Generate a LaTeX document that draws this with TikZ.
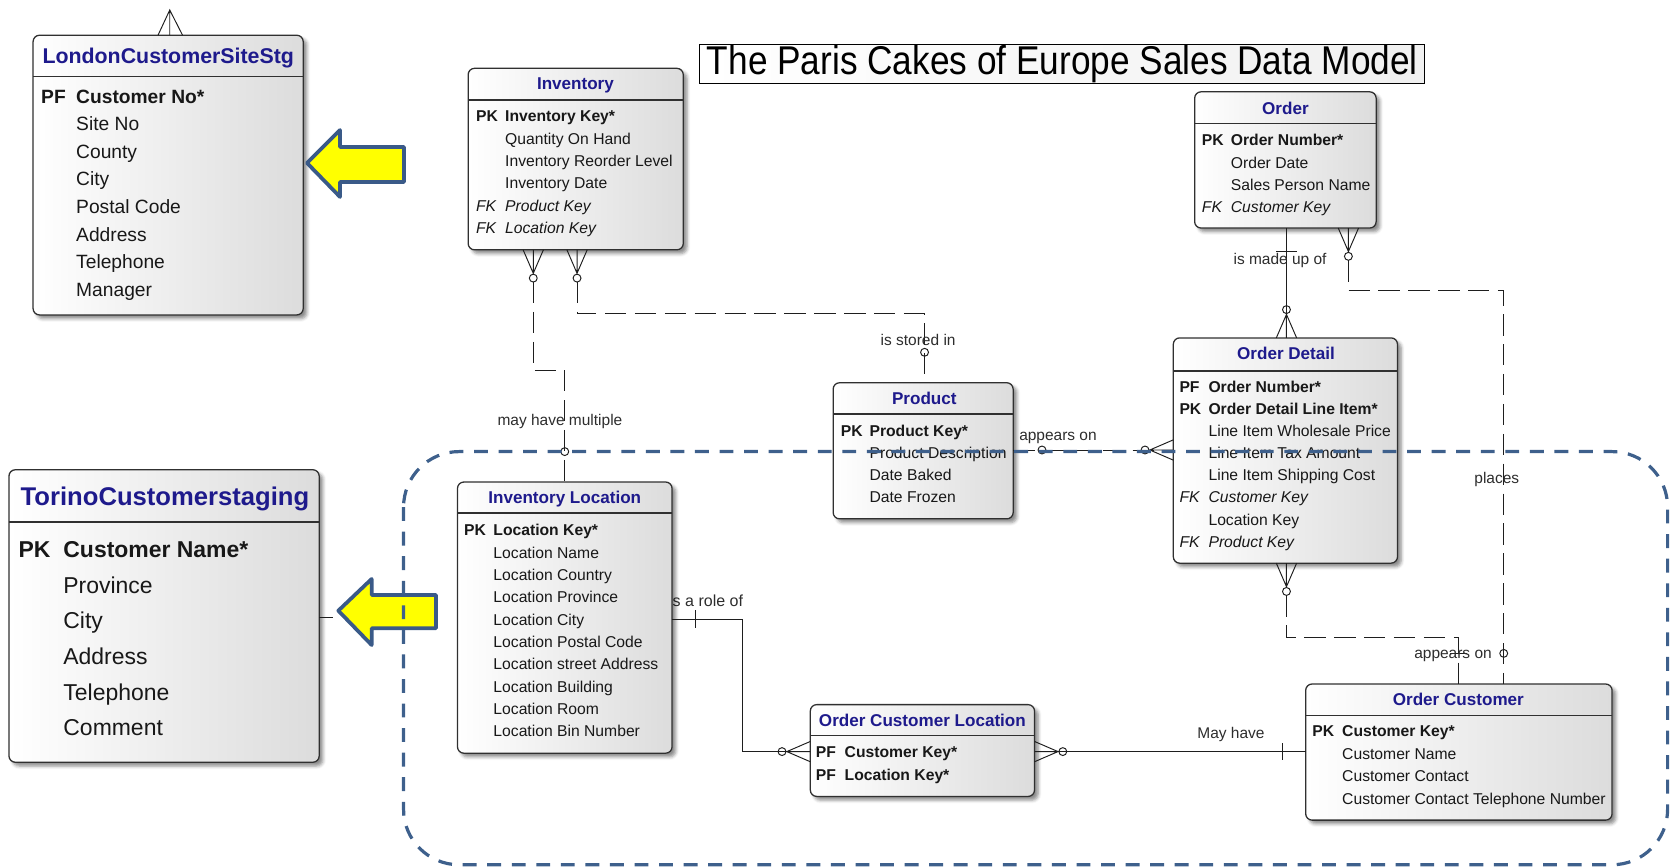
\documentclass[tikz,border=0pt]{standalone}
\usepackage{fontspec}
\setmainfont{Liberation Sans}
\usetikzlibrary{calc,shadows.blur}

\definecolor{titleblue}{RGB}{30,26,140}
\definecolor{rowink}{RGB}{24,24,24}
\definecolor{boxline}{RGB}{48,48,48}
\definecolor{relink}{RGB}{30,30,30}
\definecolor{lblink}{RGB}{45,45,45}
\definecolor{areablue}{RGB}{62,96,140}
\definecolor{arrowfill}{RGB}{255,255,0}
\definecolor{arrowedge}{RGB}{58,90,136}
\definecolor{boxshade}{RGB}{220,220,220}

% one attribute row: key column of width \keycol, then the attribute name
\newdimen\keycol
\newcommand\ent[2]{\hbox{\makebox[\keycol][l]{#1}#2}}

% crow's foot with its "zero" circle; #1 = point on the box edge, #2 = +1/-1 direction
\newcommand\crowv[2]{%
  \draw[rel] ($(#1)+(-9.5,0)$) -- ($(#1)+(0,#2*22)$) -- ($(#1)+(9.5,0)$)
             (#1) -- ($(#1)+(0,#2*22)$);
  \draw[rel] ($(#1)+(0,#2*26.5)$) circle[radius=3.7];}
\newcommand\crowh[2]{%
  \draw[rel] ($(#1)+(0,-9.5)$) -- ($(#1)+(#2*22,0)$) -- ($(#1)+(0,9.5)$)
             (#1) -- ($(#1)+(#2*22,0)$);
  \draw[rel] ($(#1)+(#2*26.5,0)$) circle[radius=3.7];}

\begin{document}
\begin{tikzpicture}[x=1pt, y=-1pt,
  ebox/.style={draw=boxline, line width=1.2pt, rounded corners=6pt,
    left color=white, right color=boxshade, inner sep=0pt, outer sep=0pt,
    anchor=north west,
    blur shadow={shadow xshift=3.5pt, shadow yshift=-3.5pt,
      shadow blur radius=3pt, shadow opacity=45}},
  hdr/.style={draw=boxline, line width=1.2pt},
  etitle/.style={inner sep=0pt, anchor=base, text=titleblue,
    font=\bfseries\fontsize{16}{19}\selectfont},
  rows/.style={inner sep=0pt, anchor=base west, text=rowink},
  rel/.style={draw=relink, line width=0.9pt},
  reld/.style={rel, dash pattern=on 20pt off 8pt},
  lbl/.style={inner sep=0pt, anchor=base, text=lblink,
    font=\fontsize{14.5}{17}\selectfont},
  bar/.style={draw=relink, line width=0.9pt},
  callout/.style={fill=arrowfill, draw=arrowedge, line width=3.5pt, line join=round},
  area/.style={draw=areablue, line width=3pt, dash pattern=on 13pt off 10pt,
    rounded corners=52pt}
]
\useasboundingbox (0,0) rectangle (1568,813);

% ---------------- label whose first letter sits under the Inventory Location box
\node[lbl, anchor=base west, font=\fontsize{15}{17}\selectfont] (lrole) at (626.6,568.4) {is a role of};

% ---------------- staging entities
\node[ebox, minimum width=253pt, minimum height=262pt] (lon) at (31,33) {};
\draw[hdr] ($(lon.north west)+(0,38.8)$) -- ($(lon.north east)+(0,38.8)$);
\node[etitle, font=\bfseries\fontsize{20}{24}\selectfont] (lonT) at (157.6,59.6) {LondonCustomerSiteStg};
\node[rows, font=\fontsize{18}{25.8}\selectfont] (lonB) at (38.4,96.8) {\keycol=32.8pt\vtop{%
  \ent{\textbf{PF}}{\textbf{Customer No*}}
  \ent{}{Site No}
  \ent{}{County}
  \ent{}{City}
  \ent{}{Postal Code}
  \ent{}{Address}
  \ent{}{Telephone}
  \ent{}{Manager}}};

\node[ebox, minimum width=290.6pt, minimum height=274pt] (tor) at (8.4,440) {};
\draw[hdr] ($(tor.north west)+(0,49)$) -- ($(tor.north east)+(0,49)$);
\node[etitle, font=\bfseries\fontsize{24}{28}\selectfont] (torT) at (154.5,473.9) {TorinoCustomerstaging};
\node[rows, font=\fontsize{21.5}{33.4}\selectfont] (torB) at (17.2,522.1) {\keycol=42pt\vtop{%
  \ent{\textbf{PK}}{\textbf{Customer Name*}}
  \ent{}{Province}
  \ent{}{City}
  \ent{}{Address}
  \ent{}{Telephone}
  \ent{}{Comment}}};

% ---------------- sales model entities
\node[ebox, minimum width=201.5pt, minimum height=170pt] (inv) at (438.5,64) {};
\draw[hdr] ($(inv.north west)+(0,29.7)$) -- ($(inv.north east)+(0,29.7)$);
\node[etitle] (invT) at (539,84.3) {Inventory};
\node[rows, font=\fontsize{14.7}{20.9}\selectfont] (invB) at (445.8,114.2) {\keycol=27.2pt\vtop{%
  \ent{\textbf{PK}}{\textbf{Inventory Key*}}
  \ent{}{Quantity On Hand}
  \ent{}{Inventory Reorder Level}
  \ent{}{Inventory Date}
  \ent{\textit{FK}}{\textit{Product Key}}
  \ent{\textit{FK}}{\textit{Location Key}}}};

\node[ebox, minimum width=170pt, minimum height=127.6pt] (ord) at (1119,86) {};
\draw[hdr] ($(ord.north west)+(0,30)$) -- ($(ord.north east)+(0,30)$);
\node[etitle] (ordT) at (1204,106.8) {Order};
\node[rows, font=\fontsize{14.7}{20.8}\selectfont] (ordB) at (1125.6,136.7) {\keycol=27.1pt\vtop{%
  \ent{\textbf{PK}}{\textbf{Order Number*}}
  \ent{}{Order Date}
  \ent{}{Sales Person Name}
  \ent{\textit{FK}}{\textit{Customer Key}}}};

\node[ebox, minimum width=168.6pt, minimum height=127.5pt] (prod) at (780.4,358.5) {};
\draw[hdr] ($(prod.north west)+(0,29.4)$) -- ($(prod.north east)+(0,29.4)$);
\node[etitle] (prodT) at (865.8,379.3) {Product};
\node[rows, font=\fontsize{14.7}{20.5}\selectfont] (prodB) at (787.4,409.2) {\keycol=26.9pt\vtop{%
  \ent{\textbf{PK}}{\textbf{Product Key*}}
  \ent{}{Product Description}
  \ent{}{Date Baked}
  \ent{}{Date Frozen}}};

\node[ebox, minimum width=210pt, minimum height=211pt] (od) at (1099,316.5) {};
\draw[hdr] ($(od.north west)+(0,31.1)$) -- ($(od.north east)+(0,31.1)$);
\node[etitle] (odT) at (1204.6,336.9) {Order Detail};
\node[rows, font=\fontsize{14.7}{20.77}\selectfont] (odB) at (1104.6,367.2) {\keycol=27.2pt\vtop{%
  \ent{\textbf{PF}}{\textbf{Order Number*}}
  \ent{\textbf{PK}}{\textbf{Order Detail Line Item*}}
  \ent{}{Line Item Wholesale Price}
  \ent{}{Line Item Tax Amount}
  \ent{}{Line Item Shipping Cost}
  \ent{\textit{FK}}{\textit{Customer Key}}
  \ent{}{Location Key}
  \ent{\textit{FK}}{\textit{Product Key}}}};

\node[ebox, minimum width=201pt, minimum height=254pt] (il) at (428.5,451.5) {};
\draw[hdr] ($(il.north west)+(0,29.1)$) -- ($(il.north east)+(0,29.1)$);
\node[etitle] (ilT) at (529,471.9) {Inventory Location};
\node[rows, font=\fontsize{14.7}{20.9}\selectfont] (ilB) at (434.6,502) {\keycol=27.4pt\vtop{%
  \ent{\textbf{PK}}{\textbf{Location Key*}}
  \ent{}{Location Name}
  \ent{}{Location Country}
  \ent{}{Location Province}
  \ent{}{Location City}
  \ent{}{Location Postal Code}
  \ent{}{Location street Address}
  \ent{}{Location Building}
  \ent{}{Location Room}
  \ent{}{Location Bin Number}}};

\node[ebox, minimum width=210pt, minimum height=86pt] (ocl) at (759,660) {};
\draw[hdr] ($(ocl.north west)+(0,29)$) -- ($(ocl.north east)+(0,29)$);
\node[etitle] (oclT) at (864,680.3) {Order Customer Location};
\node[rows, font=\fontsize{14.7}{21}\selectfont] (oclB) at (764,709.9) {\keycol=27pt\vtop{%
  \ent{\textbf{PF}}{\textbf{Customer Key*}}
  \ent{\textbf{PF}}{\textbf{Location Key*}}}};

\node[ebox, minimum width=287pt, minimum height=127.5pt] (oc) at (1223,640.7) {};
\draw[hdr] ($(oc.north west)+(0,29.3)$) -- ($(oc.north east)+(0,29.3)$);
\node[etitle] (ocT) at (1366,661) {Order Customer};
\node[rows, font=\fontsize{14.7}{21.1}\selectfont] (ocB) at (1229,690.2) {\keycol=28pt\vtop{%
  \ent{\textbf{PK}}{\textbf{Customer Key*}}
  \ent{}{Customer Name}
  \ent{}{Customer Contact}
  \ent{}{Customer Contact Telephone Number}}};

% ---------------- model title
\node[draw=black, line width=1.1pt, left color=white, right color=gray!12,
  minimum width=679pt, minimum height=37pt, inner sep=0pt, anchor=north west,
  font=\fontsize{33}{38}\selectfont] (ttl) at (655,41)
  {\scalebox{1}[1.14]{The Paris Cakes of Europe Sales Data Model}};

% ---------------- connection points on the boxes
\coordinate (lonTop) at (159,0 |- lon.north);
\coordinate (torR) at (tor.east |- 0,578.2);
\coordinate (iA) at (499.5,0 |- inv.south);
\coordinate (iB) at (540.5,0 |- inv.south);
\coordinate (ilTop) at (529,0 |- il.north);
\coordinate (pTop) at (866,0 |- prod.north);
\coordinate (oB1) at (1205,0 |- ord.south);
\coordinate (oB2) at (1263,0 |- ord.south);
\coordinate (odTop) at (1205,0 |- od.north);
\coordinate (odBot) at (1205,0 |- od.south);
\coordinate (odL) at (od.west |- 0,421.5);
\coordinate (pR) at (prod.east |- 0,421.5);
\coordinate (ocT1) at (1366,0 |- oc.north);
\coordinate (ocT2) at (1408.5,0 |- oc.north);
\coordinate (ilR) at (il.east |- 0,580);
\coordinate (oclL) at (ocl.west |- 0,704);
\coordinate (oclR) at (ocl.east |- 0,704);
\coordinate (ocL) at (oc.west |- 0,704);

% ---------------- relationships
% London staging: many side from above
\draw[rel] ($(lonTop)+(-11,0)$) -- ($(lonTop)+(0,-23.6)$) -- ($(lonTop)+(12,0)$)
           (lonTop) -- ($(lonTop)+(0,-23.6)$);
% Torino staging stub
\draw[rel] (torR) -- ++(13,0);

% Inventory -- Inventory Location
\crowv{iA}{1}
\draw[reld] ($(iA)+(0,30.2)$) |- ($(ilTop)+(0,-104.9)$) -- (ilTop);
\draw[rel] ($(ilTop)+(0,-28.5)$) circle[radius=3.7];

% Inventory -- Product
\crowv{iB}{1}
\draw[reld] ($(iB)+(0,30.2)$) |- ($(pTop)+(0,-64.5)$) -- (pTop);
\draw[rel] ($(pTop)+(0,-28.5)$) circle[radius=3.7];

% Order -- Order Detail
\draw[rel] (oB1) -- (odTop);
\draw[bar] ($(oB1)+(-9.5,22.4)$) -- ($(oB1)+(9.5,22.4)$);
\crowv{odTop}{-1}

% Order -- Order Customer
\crowv{oB2}{1}
\draw[reld] ($(oB2)+(0,30.2)$) |- ($(ocT2)+(0,-369)$) -- (ocT2);
\draw[rel] ($(ocT2)+(0,-28.7)$) circle[radius=3.7];

% Order Detail -- Order Customer
\crowv{odBot}{1}
\draw[reld] ($(odBot)+(0,30.2)$) |- ($(ocT1)+(0,-43.7)$) -- (ocT1);
\draw[bar] ($(ocT1)+(-8,-28.7)$) -- ($(ocT1)+(8,-28.7)$);

% Product -- Order Detail
\draw[reld] (pR) -- (odL);
\draw[rel] ($(pR)+(27,0)$) circle[radius=3.7];
\crowh{odL}{-1}

% Inventory Location -- Order Customer Location
\draw[rel] (ilR) -| ($(oclL)+(-64,0)$) -- (oclL);
\draw[bar] ($(ilR)+(21.5,-8.5)$) -- ($(ilR)+(21.5,8.5)$);
\crowh{oclL}{-1}

% Order Customer Location -- Order Customer
\draw[rel] (oclR) -- (ocL);
\crowh{oclR}{1}
\draw[bar] ($(ocL)+(-22,-8)$) -- ($(ocL)+(-22,8)$);

% ---------------- relationship labels
\node[lbl] (lmay) at (524.5,398.2) {may have multiple};
\node[lbl] (lstore) at (860,323.3) {is stored in};
\node[lbl] (lapp1) at (991,412.3) {appears on};
\node[lbl] (lmade) at (1199,247.8) {is made up of};
\node[lbl] (lplace) at (1402,452.8) {places};
\node[lbl] (lapp2) at (1361,616.6) {appears on};
\node[lbl] (lhave) at (1153,691.8) {May have};

% ---------------- callout arrows
\draw[callout] (287.6,152.7) -- (318.5,121.8) -- (318.5,137.7) -- (378.4,137.7)
  -- (378.4,170.5) -- (318.5,170.5) -- (318.5,184.5) -- cycle;
\draw[callout] (316.9,572) -- (348.1,542.3) -- (348.1,557.3) -- (408.4,557.3)
  -- (408.4,588.5) -- (348.1,588.5) -- (348.1,604.2) -- cycle;

% ---------------- subject area boundary
\draw[area] (378,423) rectangle (1562,810);
\end{tikzpicture}
\end{document}
